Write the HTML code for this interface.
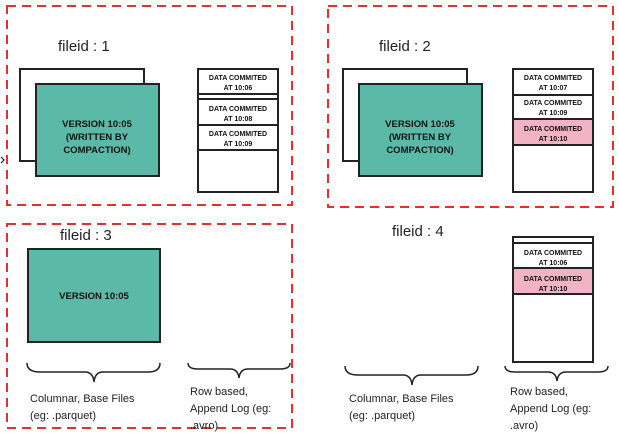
<!DOCTYPE html>
<html><head><meta charset="utf-8"><style>
html,body{margin:0;padding:0;background:#fff;}
svg{display:block;}
.cap{font-family:"Liberation Sans",sans-serif;font-weight:bold;fill:#111;}
.hand{font-family:"Liberation Sans",sans-serif;fill:#222;}
</style></head><body>
<svg width="619" height="435" viewBox="0 0 619 435">
<g fill="none" stroke="#e8302a" stroke-width="2" stroke-dasharray="9,6">
<rect x="7" y="6" width="285" height="199"/>
<rect x="328" y="6" width="285" height="201"/>
<rect x="7" y="224" width="285" height="204"/>
</g>
<text x="58" y="51" class="hand" font-size="15">fileid : 1</text>
<text x="379" y="51" class="hand" font-size="15">fileid : 2</text>
<text x="60" y="240" class="hand" font-size="15">fileid : 3</text>
<text x="392" y="236" class="hand" font-size="15">fileid : 4</text>

<g stroke="#222" stroke-width="2">
<rect x="20" y="69" width="124" height="92" fill="#fff"/>
<rect x="36" y="84" width="123" height="92" fill="#5bbaa7"/>
<rect x="343" y="69" width="124" height="92" fill="#fff"/>
<rect x="359" y="84" width="123" height="92" fill="#5bbaa7"/>
<rect x="28" y="249" width="132" height="93" fill="#5bbaa7"/>

<rect x="198" y="69" width="80" height="123" fill="#fff"/>
<line x1="198" y1="94" x2="278" y2="94"/><line x1="198" y1="99" x2="278" y2="99"/>
<line x1="198" y1="125" x2="278" y2="125"/><line x1="198" y1="150" x2="278" y2="150"/>

<rect x="513" y="69" width="80" height="123" fill="#fff"/>
<line x1="513" y1="95" x2="593" y2="95"/>
<rect x="513" y="119" width="80" height="26" fill="#f2b3c6"/>

<rect x="513" y="237" width="80" height="125" fill="#fff"/>
<line x1="513" y1="243" x2="593" y2="243"/>
<rect x="513" y="268" width="80" height="26" fill="#f2b3c6"/>
</g>

<g class="cap" font-size="9.5" text-anchor="middle">
<text x="97" y="127">VERSION 10:05</text><text x="97" y="140">(WRITTEN BY</text><text x="97" y="153">COMPACTION)</text>
<text x="420" y="127">VERSION 10:05</text><text x="420" y="140">(WRITTEN BY</text><text x="420" y="153">COMPACTION)</text>
<text x="94" y="299">VERSION 10:05</text>
</g>
<g class="cap" font-size="7" text-anchor="middle">
<text x="238" y="80">DATA COMMITED</text><text x="238" y="90">AT 10:06</text>
<text x="238" y="111">DATA COMMITED</text><text x="238" y="121">AT 10:08</text>
<text x="238" y="136">DATA COMMITED</text><text x="238" y="146">AT 10:09</text>
<text x="553" y="80">DATA COMMITED</text><text x="553" y="90">AT 10:07</text>
<text x="553" y="105">DATA COMMITED</text><text x="553" y="115">AT 10:09</text>
<text x="553" y="131">DATA COMMITED</text><text x="553" y="141">AT 10:10</text>
<text x="553" y="255">DATA COMMITED</text><text x="553" y="265">AT 10:06</text>
<text x="553" y="281">DATA COMMITED</text><text x="553" y="291">AT 10:10</text>
</g>

<g fill="none" stroke="#222" stroke-width="1.5">
<path d="M27 363 Q27 372 40 372 L85 372 Q93 372 94 382 Q95 372 103 372 L148 372 Q160 372 160 363"/>
<path d="M188 363 Q188 369 198 369 L230 369 Q238 369 239 378 Q240 369 248 369 L280 369 Q290 369 290 363"/>
<path d="M345 366 Q345 375 358 375 L403 375 Q411 375 412 385 Q413 375 421 375 L466 375 Q478 375 478 366"/>
<path d="M505 366 Q505 372 515 372 L548 372 Q556 372 557 381 Q558 372 566 372 L598 372 Q608 372 608 366"/>
</g>
<g class="hand" font-size="11">
<text x="30" y="402">Columnar, Base Files</text><text x="30" y="419">(eg: .parquet)</text>
<text x="190" y="395">Row based,</text><text x="190" y="412">Append Log (eg:</text><text x="190" y="429">.avro)</text>
<text x="349" y="402">Columnar, Base Files</text><text x="349" y="419">(eg: .parquet)</text>
<text x="510" y="395">Row based,</text><text x="510" y="412">Append Log (eg:</text><text x="510" y="429">.avro)</text>
</g>
<path d="M1 157 L4 160 L1 163" fill="none" stroke="#222" stroke-width="1.2"/>
</svg>
</body></html>
